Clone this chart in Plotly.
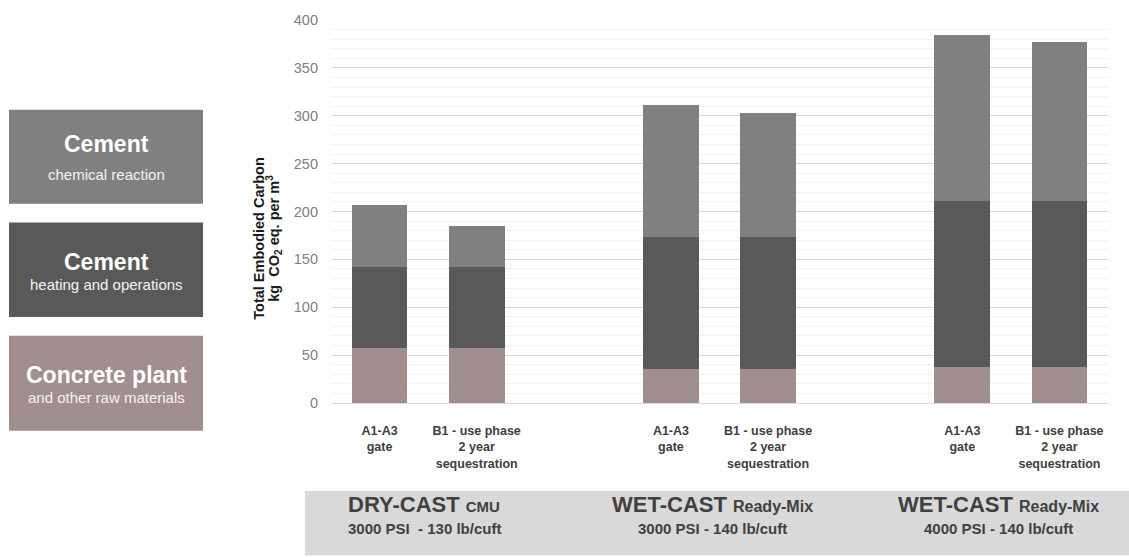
import plotly.graph_objects as go

# ---------------- data ----------------
groups = ["DRY-CAST", "WET-CAST 3000", "WET-CAST 4000"]
bar_labels = ["A1-A3<br>gate", "B1 - use phase<br>2 year<br>sequestration"]

concrete_plant = [57, 57, 35, 35, 38, 38]
cement_heating = [85, 85, 138, 138, 173, 173]
cement_chemical = [65, 43, 138, 130, 173, 166]

series_names = ["Concrete plant", "Cement heating and operations", "Cement chemical reaction"]
series_colors = ["#a18e8e", "#595959", "#808080"]

group_titles = [("DRY-CAST", "CMU", "3000 PSI  - 130 lb/cuft"),
                ("WET-CAST", "Ready-Mix", "3000 PSI - 140 lb/cuft"),
                ("WET-CAST", "Ready-Mix", "4000 PSI - 140 lb/cuft")]

y_ticks = [0, 50, 100, 150, 200, 250, 300, 350, 400]

# ---------------- positions (slot layout with a gap between groups) ----------------
xpos = []
ticktext = []
for gi in range(len(groups)):
    for bi in range(len(bar_labels)):
        xpos.append(gi * 3 + bi)
        ticktext.append("<b>" + bar_labels[bi] + "</b>")

W, H = 1129, 557
L, R, T, B = 331, 21, 16, 154
PW = W - L - R
PH = H - T - B


def px2x(px):
    return (px - L) / PW


def px2y(py):
    return (H - B - py) / PH


FONT = "Arial, Liberation Sans, sans-serif"

fig = go.Figure()
for name, vals, col in zip(series_names, [concrete_plant, cement_heating, cement_chemical], series_colors):
    fig.add_trace(go.Bar(x=xpos, y=vals, name=name, marker=dict(color=col, line=dict(width=0)),
                         width=0.575, showlegend=False))

shapes = []
annotations = []

# legend boxes on the left
legend_boxes = [
    (106.7, 201.7, series_colors[2], "Cement", "chemical reaction", 141.7, 171.7),
    (220.7, 316.0, series_colors[1], "Cement", "heating and operations", 261.0, 283.5),
    (335.0, 431.0, series_colors[0], "Concrete plant", "and other raw materials", 375.0, 397.0),
]
for y0, y1, col, t1, t2, c1, c2 in legend_boxes:
    shapes.append(dict(type="rect", xref="paper", yref="paper", x0=px2x(9), x1=px2x(203),
                       y0=px2y(y1), y1=px2y(y0), fillcolor=col, line=dict(width=0), layer="below"))
    annotations.append(dict(xref="paper", yref="paper", x=px2x(106), y=px2y(c1), text="<b>" + t1 + "</b>",
                            showarrow=False, xanchor="center", yanchor="middle",
                            font=dict(family=FONT, size=23, color="white")))
    annotations.append(dict(xref="paper", yref="paper", x=px2x(106), y=px2y(c2), text=t2,
                            showarrow=False, xanchor="center", yanchor="middle",
                            font=dict(family=FONT, size=15, color="#f4f4f4")))

# bottom band
shapes.append(dict(type="rect", xref="paper", yref="paper", x0=px2x(305), x1=px2x(1129),
                   y0=px2y(557), y1=px2y(492), fillcolor="#d9d9d9", line=dict(width=0), layer="below"))
title_centers = [424, 712, 998]
small_sizes = [15, 16, 16]
for (big, small, sub), cx, ss in zip(group_titles, title_centers, small_sizes):
    annotations.append(dict(xref="paper", yref="paper", x=px2x(cx), y=px2y(506),
                            text="<b>" + big + "</b> <b><span style='font-size:%dpx'>" % ss + small + "</span></b>",
                            showarrow=False, xanchor="center", yanchor="middle",
                            font=dict(family=FONT, size=22, color="#404040")))
    annotations.append(dict(xref="paper", yref="paper", x=px2x(cx), y=px2y(530), text="<b>" + sub + "</b>",
                            showarrow=False, xanchor="center", yanchor="middle",
                            font=dict(family=FONT, size=15, color="#404040")))

# y-axis title as two rotated lines
annotations.append(dict(xref="paper", yref="paper", x=px2x(259), y=px2y(237),
                        text="<b>Total Embodied Carbon</b>", textangle=-90, showarrow=False,
                        xanchor="center", yanchor="middle", font=dict(family=FONT, size=14.5, color="#1a1a1a")))
annotations.append(dict(xref="paper", yref="paper", x=px2x(274), y=px2y(237),
                        text="<b>kg  CO<sub>2</sub> eq. per m<sup>3</sup></b>", textangle=-90, showarrow=False,
                        xanchor="center", yanchor="middle", font=dict(family=FONT, size=14.5, color="#1a1a1a")))

fig.update_layout(
    width=W, height=H,
    margin=dict(l=L, r=R, t=T, b=B, pad=0),
    barmode="stack",
    paper_bgcolor="white", plot_bgcolor="white",
    font=dict(family=FONT),
    shapes=shapes, annotations=annotations,
    xaxis=dict(range=[-0.5, 7.5], tickmode="array", tickvals=xpos, ticktext=ticktext,
               showgrid=False, zeroline=False, showline=True, linecolor="#d9d9d9", linewidth=1,
               ticks="", ticklabelstandoff=16,
               tickfont=dict(family=FONT, size=12.5, color="#404040")),
    yaxis=dict(range=[0, 400], tickmode="array", tickvals=y_ticks, showgrid=True, gridcolor="#d9d9d9",
               gridwidth=1, zeroline=False, showline=False, ticks="", ticklabelstandoff=12,
               tickfont=dict(family=FONT, size=14.5, color="#7f7f7f"),
               minor=dict(dtick=10, showgrid=True, gridcolor="#f1f1f1", gridwidth=1)),
)

fig.write_html("out.html", config={"displayModeBar": False},
               post_script="document.body.style.margin='0';document.body.style.overflow='hidden';")
